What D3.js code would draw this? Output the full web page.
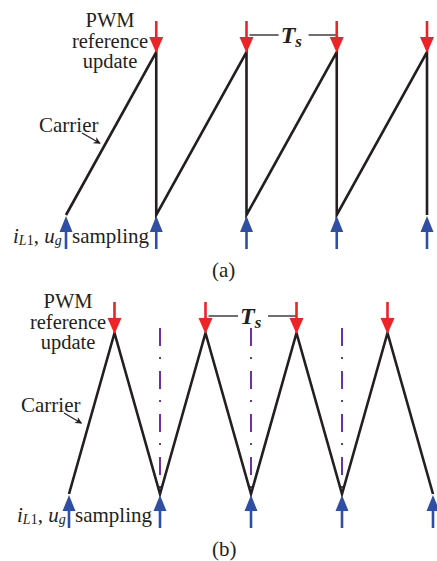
<!DOCTYPE html>
<html>
<head>
<meta charset="utf-8">
<script src="https://cdn.jsdelivr.net/npm/d3@7"></script>
<style>
  body { margin: 0; background: #fff; }
</style>
</head>
<body>
<div id="chart"></div>
<script>
// carrier vertices, time in switching periods, value 0..1
let sawTime = [0, 1, 1, 2, 2, 3, 3, 4, 4];
let sawValue = [0, 1, 0, 1, 0, 1, 0, 1, 0];
let triTime = [0, 0.5, 1, 1.5, 2, 2.5, 3, 3.5, 4];
let triValue = [0, 1, 0, 1, 0, 1, 0, 1, 0];

let updateA = [1, 2, 3, 4];          // PWM reference update (a)
let samplingA = [0, 1, 2, 3, 4];     // sampling instants (a)
let updateB = [0.5, 1.5, 2.5, 3.5];  // PWM reference update (b)
let samplingB = [0, 1, 2, 3, 4];     // sampling instants (b)
let valleyLinesB = [1, 2, 3];        // dash-dot markers (b)
let tsSpanA = [2, 3];
let tsSpanB = [1.5, 2.5];
let updateLines = ["PWM", "reference", "update"];

const width = 437, height = 561;
const red = "#ec2428", blue = "#2f4fa6", purple = "#7030a0", ink = "#231f20";
const serif = "'Liberation Serif', 'Times New Roman', Times, serif";

const svg = d3.select("#chart").append("svg")
    .attr("width", width)
    .attr("height", height)
    .attr("font-family", serif)
    .style("font-family", serif);

const defs = svg.append("defs");
defs.append("marker")
    .attr("id", "tip")
    .attr("viewBox", "0 0 10 10")
    .attr("refX", 9).attr("refY", 5)
    .attr("markerWidth", 9).attr("markerHeight", 7)
    .attr("markerUnits", "userSpaceOnUse")
    .attr("orient", "auto")
    .append("path")
    .attr("d", "M0,0 L10,5 L0,10 L3,5 Z")
    .attr("fill", ink);

function label(g, x, y, size) {
    return g.append("text")
        .attr("x", x).attr("y", y)
        .attr("fill", ink)
        .style("font-family", serif)
        .style("font-size", size + "px");
}

function downArrow(g, x, yTop, yTip) {
    g.append("line")
        .attr("x1", x).attr("x2", x)
        .attr("y1", yTop).attr("y2", yTip - 10)
        .attr("stroke", red).attr("stroke-width", 2.6);
    g.append("path")
        .attr("d", `M${x - 7},${yTip - 16} L${x + 7},${yTip - 16} L${x},${yTip} Z`)
        .attr("fill", red);
}

function upArrow(g, x, yTip, yBottom) {
    g.append("line")
        .attr("x1", x).attr("x2", x)
        .attr("y1", yTip + 10).attr("y2", yBottom)
        .attr("stroke", blue).attr("stroke-width", 2.6);
    g.append("path")
        .attr("d", `M${x - 6.5},${yTip + 16} L${x + 6.5},${yTip + 16} L${x},${yTip} Z`)
        .attr("fill", blue);
}

function drawPanel(opt) {
    const g = svg.append("g");
    const x = d3.scaleLinear().domain([0, 4]).range(opt.xRange);
    const y = d3.scaleLinear().domain([0, 1]).range(opt.yRange);

    // dash-dot lines
    (opt.valleys || []).forEach(t => {
        g.append("line")
            .attr("x1", x(t)).attr("x2", x(t))
            .attr("y1", y(1) - 5).attr("y2", y(0) - 2)
            .attr("stroke", purple).attr("stroke-width", 2)
            .attr("stroke-dasharray", "18,11,2,12");
    });

    // carrier
    const line = d3.line().x(d => x(d[0])).y(d => y(d[1]));
    g.append("path")
        .attr("d", line(d3.zip(opt.times, opt.values)))
        .attr("fill", "none")
        .attr("stroke", ink)
        .attr("stroke-width", 2.6)
        .attr("stroke-linejoin", "miter");

    opt.update.forEach(t => downArrow(g, x(t), y(1) - 31, y(1) + 1));
    opt.sampling.forEach(t => upArrow(g, x(t), y(0) + 1, y(0) + 34));

    // Ts dimension
    const yTs = y(1) - 17;
    const x0 = x(opt.ts[0]), x1 = x(opt.ts[1]);
    const xm = (x0 + x1) / 2;
    g.append("line").attr("x1", x0 + 3).attr("x2", xm - 13)
        .attr("y1", yTs).attr("y2", yTs).attr("stroke", ink).attr("stroke-width", 1.3);
    g.append("line").attr("x1", xm + 17).attr("x2", x1 - 1)
        .attr("y1", yTs).attr("y2", yTs).attr("stroke", ink).attr("stroke-width", 1.3);
    const ts = label(g, xm - 11, yTs + 8, 24)
        .style("font-weight", "bold").style("font-style", "italic");
    ts.append("tspan").text("T");
    ts.append("tspan").attr("dy", 4).style("font-size", "17px").text("s");

    // PWM reference update label
    const lx = opt.labelX, ly = y(1) - 25;
    updateLines.forEach((s, i) => {
        label(g, lx, ly + i * 20.5, 20.5)
            .attr("text-anchor", "middle")
            .text(s);
    });

    // Carrier label + pointer
    const cy = opt.carrierY;
    label(g, opt.carrierX, cy, 21).text("Carrier");
    g.append("line")
        .attr("x1", opt.carrierX + 43).attr("y1", cy + 1)
        .attr("x2", x(opt.carrierTipT) - 3).attr("y2", y(opt.carrierTipV))
        .attr("stroke", ink).attr("stroke-width", 1.2)
        .attr("marker-end", "url(#tip)");

    // sampling label
    const sy = y(0) + 28;
    const t = label(g, opt.sampleX, sy, 21);
    t.append("tspan").style("font-style", "italic").text("i");
    t.append("tspan").attr("dy", 2).style("font-size", "14px").style("font-style", "italic").text("L");
    t.append("tspan").style("font-size", "14px").text("1");
    t.append("tspan").attr("dy", -2).text(", ");
    t.append("tspan").style("font-style", "italic").text("u");
    t.append("tspan").attr("dy", 2).style("font-size", "14px").style("font-style", "italic").text("g");
    label(g, x(0) + 6, sy, 21).text("sampling");

    // panel tag
    label(g, 212, opt.tagY, 21).text(opt.tag);
}

drawPanel({
    xRange: [66, 427], yRange: [215, 52],
    times: sawTime, values: sawValue,
    update: updateA, sampling: samplingA, ts: tsSpanA,
    labelX: 110, carrierX: 39, carrierY: 132, carrierTipT: 0.41, carrierTipV: 0.44,
    sampleX: 13, tag: "(a)", tagY: 277
});

drawPanel({
    xRange: [69, 433], yRange: [494, 333],
    times: triTime, values: triValue, valleys: valleyLinesB,
    update: updateB, sampling: samplingB, ts: tsSpanB,
    labelX: 68, carrierX: 21, carrierY: 412, carrierTipT: 0.17, carrierTipV: 0.44,
    sampleX: 17, tag: "(b)", tagY: 556
});
</script>
</body>
</html>
